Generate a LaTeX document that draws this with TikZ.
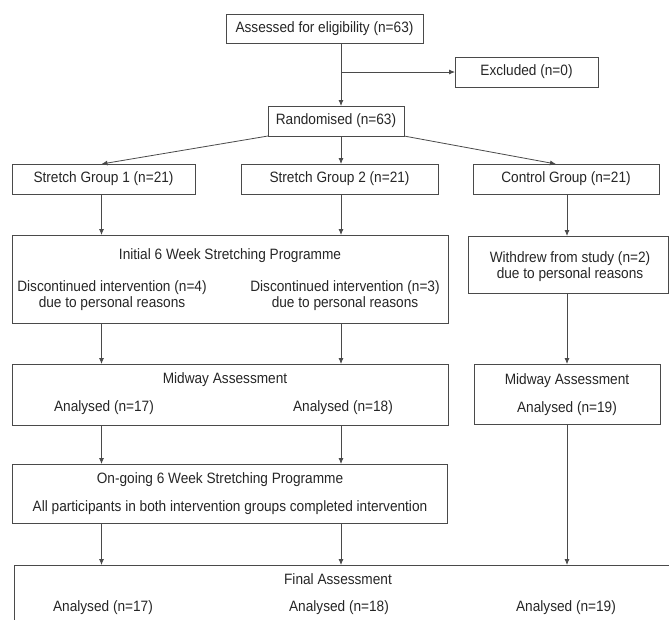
\documentclass[tikz,border=0pt]{standalone}
\usepackage{fontspec}
\setmainfont[FakeStretch=0.91]{Liberation Sans}
\usetikzlibrary{arrows.meta}
\definecolor{linec}{HTML}{4A4A4A}
\definecolor{textc}{HTML}{262626}
\begin{document}
\begin{tikzpicture}[x=1pt,y=-1pt,
  font=\fontsize{15}{16}\selectfont, text=textc,
  box/.style={draw=linec, line width=0.8pt, inner sep=0pt, outer sep=0pt},
  lbl/.style={inner sep=0pt, align=center},
  arr/.style={draw=linec, line width=0.8pt, -{Latex[length=6pt,width=5pt]}},
  ln/.style={draw=linec, line width=0.8pt}]
\useasboundingbox (0,0) rectangle (669,619);
\clip (0,0) rectangle (669,619);
% column coordinates
\coordinate (c1) at (101.5,0);
\coordinate (c2) at (341,0);
\coordinate (c3) at (567,0);
\coordinate (cR) at (556,0);
% boxes
\node[box, minimum width=197pt, minimum height=29pt] (assess) at (324.5,28.5) {Assessed for eligibility (n=63)};
\node[box, minimum width=143pt, minimum height=30pt] (excl) at (526.5,72) {Excluded (n=0)};
\node[box, minimum width=136pt, minimum height=30pt] (rand) at (336,121) {Randomised (n=63)};
\node[box, minimum width=183pt, minimum height=30pt] (sg1) at (103.5,179) {Stretch Group 1 (n=21)};
\node[box, minimum width=197pt, minimum height=30pt] (sg2) at (339.5,179) {Stretch Group 2 (n=21)};
\node[box, minimum width=186pt, minimum height=30pt] (ctrl) at (566,179) {Control Group (n=21)};
\node[box, minimum width=436pt, minimum height=88pt] (init) at (230,279) {};
\node[box, minimum width=200pt, minimum height=57pt] (wd) at (568,264.5) {};
\node[box, minimum width=436pt, minimum height=61pt] (mid) at (230,394.5) {};
\node[box, minimum width=186pt, minimum height=60pt] (midc) at (567,394) {};
\node[box, minimum width=435pt, minimum height=59pt] (ongo) at (229.5,493.5) {};
\node[box, minimum width=686pt, minimum height=115pt] (final) at (357,622.5) {};
% texts
\node[lbl] (tinit) at (230,256) {Initial 6 Week Stretching Programme};
\node[lbl] (tdisc4) at (112,296) {Discontinued intervention (n=4)\\due to personal reasons};
\node[lbl] (tdisc3) at (345,296) {Discontinued intervention (n=3)\\due to personal reasons};
\node[lbl] (twd) at (570,267) {Withdrew from study (n=2)\\due to personal reasons};
\node[lbl] (tmid) at (225,380) {Midway Assessment};
\node[lbl] (tm17) at (104,408) {Analysed (n=17)};
\node[lbl] (tm18) at (343,408) {Analysed (n=18)};
\node[lbl] (tmidc) at (567,381) {Midway Assessment};
\node[lbl] (tm19) at (567,409) {Analysed (n=19)};
\node[lbl] (tongo) at (220,480) {On-going 6 Week Stretching Programme};
\node[lbl] (tall) at (230,508) {All participants in both intervention groups completed intervention};
\node[lbl] (tfin) at (338,579) {Final Assessment};
\node[lbl] (tf17) at (103,608) {Analysed (n=17)};
\node[lbl] (tf18) at (339,608) {Analysed (n=18)};
\node[lbl] (tf19) at (566,608) {Analysed (n=19)};
% connectors
\draw[arr] (assess.south -| c2) -- (rand.north -| c2);
\draw[arr] (excl.west -| c2) -- (excl.west);
\draw[arr] (rand.south west) -- (sg1.north -| c1);
\draw[arr] (rand.south -| c2) -- (sg2.north -| c2);
\draw[arr] (rand.south east) -- (ctrl.north -| cR);
\draw[arr] (sg1.south -| c1) -- (init.north -| c1);
\draw[arr] (sg2.south -| c2) -- (init.north -| c2);
\draw[arr] (ctrl.south -| c3) -- (wd.north -| c3);
\draw[arr] (init.south -| c1) -- (mid.north -| c1);
\draw[arr] (init.south -| c2) -- (mid.north -| c2);
\draw[arr] (wd.south -| c3) -- (midc.north -| c3);
\draw[arr] (mid.south -| c1) -- (ongo.north -| c1);
\draw[arr] (mid.south -| c2) -- (ongo.north -| c2);
\draw[arr] (ongo.south -| c1) -- (final.north -| c1);
\draw[arr] (ongo.south -| c2) -- (final.north -| c2);
\draw[arr] (midc.south -| c3) -- (final.north -| c3);
\end{tikzpicture}
\end{document}
